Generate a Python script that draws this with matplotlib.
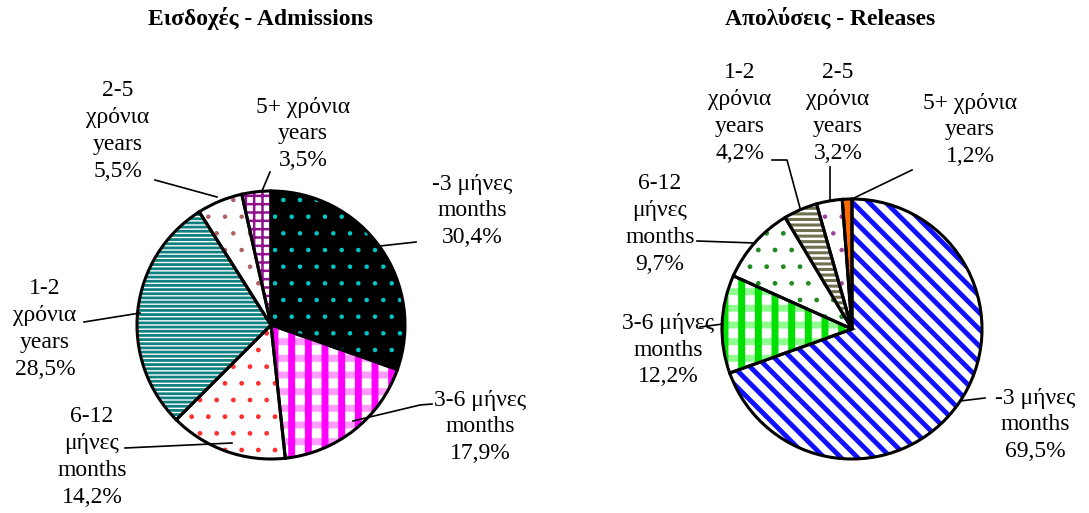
import matplotlib
matplotlib.use("Agg")
import matplotlib.pyplot as plt
from matplotlib.patches import Wedge

plt.rcParams['font.family'] = ['Liberation Serif', 'DejaVu Serif']

W, H = 1089, 513

# donnees
labels_adm = ["-3 μήνες\nmonths\n30,4%", "3-6 μήνες\nmonths\n17,9%",
              "6-12\nμήνες\nmonths\n14,2%", "1-2\nχρόνια\nyears\n28,5%",
              "2-5\nχρόνια\nyears\n5,5%", "5+ χρόνια\nyears\n3,5%"]
values_adm = [30.4, 17.9, 14.2, 28.5, 5.5, 3.5]

labels_rel = ["-3 μήνες\nmonths\n69,5%", "3-6 μήνες\nmonths\n12,2%",
              "6-12\nμήνες\nmonths\n9,7%", "1-2\nχρόνια\nyears\n4,2%",
              "2-5\nχρόνια\nyears\n3,2%", "5+ χρόνια\nyears\n1,2%"]
values_rel = [69.5, 12.2, 9.7, 4.2, 3.2, 1.2]

# styles: (fond, [(hatch, couleur, epaisseur), ...])
styles_adm = [
    ('black', [('.', '#00c8c8', 0.8)]),
    ('white', [('-', '#ff9cff', 5.0), ('|', '#ff00ff', 5.0)]),
    ('white', [('.', '#ff3030', 1.0)]),
    ('white', [('----', '#108080', 2.0)]),
    ('white', [('.', '#b06060', 0.8)]),
    ('white', [('++', '#901090', 1.8)]),
]
styles_rel = [
    ('white', [('\\\\', '#1010ff', 3.5)]),
    ('white', [('-', '#90ff90', 5.0), ('|', '#00e000', 5.0)]),
    ('white', [('.', '#208a20', 1.0)]),
    ('white', [('---', '#707050', 2.2)]),
    ('white', [('.', '#a040a0', 0.8)]),
    ('#ff6a00', []),
]

# positions des etiquettes (pixels) et traits de rappel
txt_adm = [(472, 211), (480, 427), (92, 457), (45, 329), (118, 131), (303, 134)]
lines_adm = [[(380, 246), (416, 242)],
             [(353, 421), (420, 405), (432, 404)],
             [(232, 443), (125, 448)],
             [(140, 313), (84, 322)],
             [(217, 197), (155, 180)],
             [(262, 191), (270, 172)]]
txt_rel = [(1035, 425), (668, 350), (660, 224), (740, 113), (838, 113), (970, 130)]
lines_rel = [[(960, 401), (985, 398)],
             [(723, 324), (700, 327)],
             [(755, 243), (697, 241)],
             [(800, 208), (787, 160), (772, 160)],
             [(830, 200), (830, 167)],
             [(854, 198), (912, 170)]]


def camembert(ax, values, labels, styles, cx, cy, r, txtpos, lines, title, tx):
    c = (cx, H - cy)
    wedges, _ = ax.pie(values, startangle=90, counterclock=False, center=c,
                       radius=r, colors=[s[0] for s in styles],
                       wedgeprops=dict(linewidth=0))
    for w, (fc, layers) in zip(wedges, styles):
        for hatch, col, lw in layers:
            p = Wedge(c, r, w.theta1, w.theta2, fill=False, hatch=hatch,
                      edgecolor=col, linewidth=0)
            if hasattr(p, 'set_hatch_linewidth'):
                p.set_hatch_linewidth(lw)
            ax.add_patch(p)
        ax.add_patch(Wedge(c, r, w.theta1, w.theta2, fill=False,
                           edgecolor='black', linewidth=2.2))
    for lab, (x, y), pts in zip(labels, txtpos, lines):
        ax.text(x, H - y, lab, ha='center', va='center',
                multialignment='center', fontsize=17, linespacing=1.36)
        ax.plot([p[0] for p in pts], [H - p[1] for p in pts],
                color='black', lw=1.2)
    ax.text(tx, H - 19, title, ha='center', va='center',
            fontsize=17, fontweight='bold')


fig = plt.figure(figsize=(W / 100, H / 100), dpi=100)
ax = fig.add_axes([0, 0, 1, 1])
camembert(ax, values_adm, labels_adm, styles_adm, 271, 325, 134,
          txt_adm, lines_adm, "Εισδοχές - Admissions", 260)
camembert(ax, values_rel, labels_rel, styles_rel, 852, 329, 130,
          txt_rel, lines_rel, "Απολύσεις - Releases", 830)
ax.set_xlim(0, W)
ax.set_ylim(0, H)
ax.set_aspect('auto')
ax.axis('off')
fig.savefig("out.png", dpi=100)
